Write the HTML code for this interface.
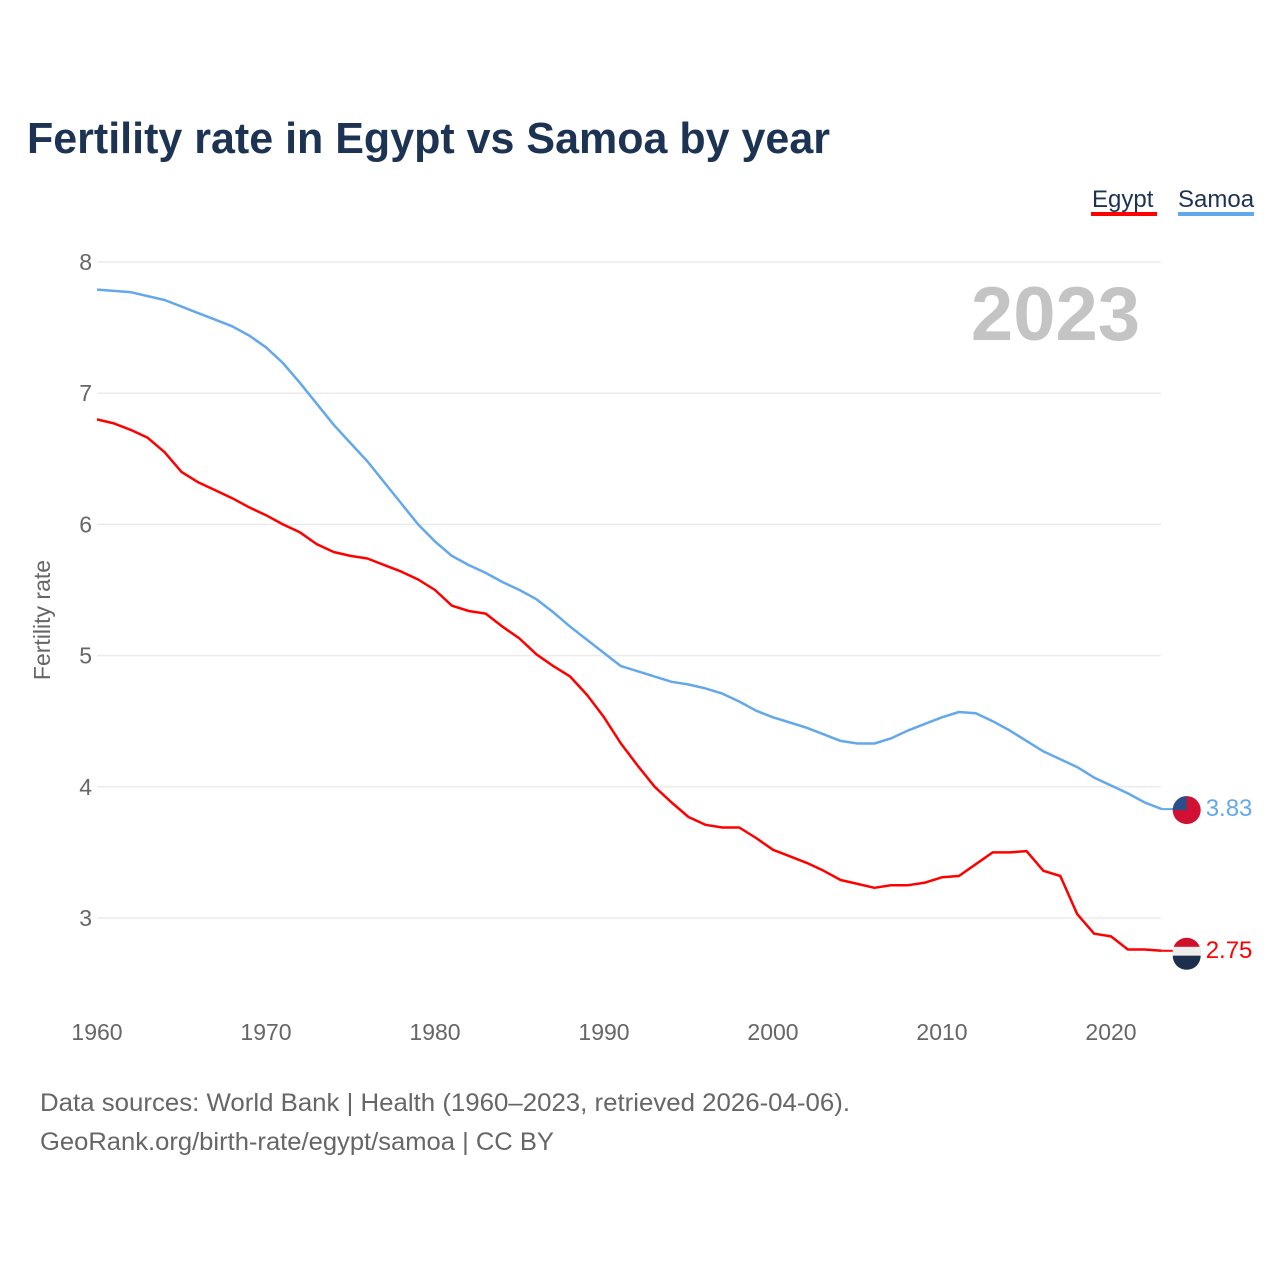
<!DOCTYPE html>
<html><head><meta charset="utf-8">
<style>
body{margin:0;background:#fff;width:1280px;height:1280px;overflow:hidden;font-family:"Liberation Sans",sans-serif}
</style></head>
<body>
<svg id="chart" width="1280" height="1280" xmlns="http://www.w3.org/2000/svg" font-family="Liberation Sans, sans-serif">
<text x="27" y="153" font-size="44" font-weight="bold" fill="#1d3354" textLength="803" lengthAdjust="spacingAndGlyphs">Fertility rate in Egypt vs Samoa by year</text>
<g>
<text x="1092" y="207" font-size="24" fill="#1d3354">Egypt</text>
<rect x="1091" y="212" width="66" height="4" fill="#ff0000"/>
<text x="1178" y="207" font-size="24" fill="#1d3354">Samoa</text>
<rect x="1178" y="212" width="76" height="4" fill="#64a8ec"/>
</g>
<text x="1140" y="340" font-size="76" font-weight="bold" fill="#c4c4c4" text-anchor="end">2023</text>
<text transform="translate(50,620) rotate(-90)" font-size="23" fill="#666" text-anchor="middle">Fertility rate</text>
<g id="grid"></g><g id="lines"></g>
<text x="40" y="1111" font-size="25" fill="#666" textLength="810" lengthAdjust="spacingAndGlyphs">Data sources: World Bank | Health (1960–2023, retrieved 2026-04-06).</text>
<text x="40" y="1150" font-size="25" fill="#666" textLength="514" lengthAdjust="spacingAndGlyphs">GeoRank.org/birth-rate/egypt/samoa | CC BY</text>
</svg>
<script>
const years=[];for(let y=1960;y<=2023;y++)years.push(y);
const samoa=[7.79,7.78,7.77,7.74,7.71,7.66,7.61,7.56,7.51,7.44,7.35,7.23,7.08,6.92,6.76,6.62,6.48,6.32,6.16,6.00,5.87,5.76,5.69,5.63,5.56,5.50,5.43,5.33,5.22,5.12,5.02,4.92,4.88,4.84,4.80,4.78,4.75,4.71,4.65,4.58,4.53,4.49,4.45,4.40,4.35,4.33,4.33,4.37,4.43,4.48,4.53,4.57,4.56,4.50,4.43,4.35,4.27,4.21,4.15,4.07,4.01,3.95,3.88,3.83];
const egypt=[6.80,6.77,6.72,6.66,6.55,6.40,6.32,6.26,6.20,6.13,6.07,6.00,5.94,5.85,5.79,5.76,5.74,5.69,5.64,5.58,5.50,5.38,5.34,5.32,5.22,5.13,5.01,4.92,4.84,4.70,4.53,4.33,4.16,4.00,3.88,3.77,3.71,3.69,3.69,3.61,3.52,3.47,3.42,3.36,3.29,3.26,3.23,3.25,3.25,3.27,3.31,3.32,3.41,3.50,3.50,3.51,3.36,3.32,3.03,2.88,2.86,2.76,2.76,2.75];
const yTicks=[3,4,5,6,7,8];
const xTicks=[1960,1970,1980,1990,2000,2010,2020];
const X=y=>97+(y-1960)*(1111-97)/60;
const Y=v=>262+(8-v)*131.2;
const NS="http://www.w3.org/2000/svg";
const grid=document.getElementById('grid'),lines=document.getElementById('lines');
function mk(t,a,p){const e=document.createElementNS(NS,t);for(const k in a)e.setAttribute(k,a[k]);p.appendChild(e);return e;}
yTicks.forEach(v=>{
 const l=mk('line',{x1:97,x2:1161,y1:Y(v),y2:Y(v),stroke:'#ebebeb','stroke-width':1.5},grid);
 
 
 const t=mk('text',{x:92,y:Y(v)+8,'font-size':23,fill:'#666','text-anchor':'end'},grid);
 t.textContent=v;
 
 
});
xTicks.forEach(v=>{
 const t=mk('text',{x:X(v),y:1040,'font-size':23,fill:'#666','text-anchor':'middle'},grid);
 t.textContent=v;
 
 
});
function series(vals,col,name){
 const d=vals.map((v,i)=>(i?'L':'M')+X(years[i]).toFixed(1)+','+Y(v).toFixed(1)).join('');
 const p=mk('path',{d:d,fill:'none',stroke:col,'stroke-width':2.5,'stroke-linejoin':'round'},lines);
 
 
 const last=vals[vals.length-1],lx=X(years[years.length-1]);
 mk('line',{x1:lx,x2:lx+12,y1:Y(last),y2:Y(last),stroke:col,'stroke-width':2},lines);
 const c=mk('circle',{cx:lx+25,cy:Y(last)+1,r:14,fill:name==='samoa'?'#d21034':'#ce1126'},lines);
 
 
 if(name==='samoa'){mk('path',{d:`M${lx+11},${Y(last)+1} A14,14 0 0 1 ${lx+25},${Y(last)-13} L${lx+25},${Y(last)+1} Z`,fill:'#2b4f88'},lines);}
 else{mk('rect',{x:lx+11,y:Y(last)-4,width:28,height:9,fill:'#eee'},lines);
  mk('path',{d:`M${lx+11},${Y(last)+5} L${lx+39},${Y(last)+5} A14,14 0 0 1 ${lx+11},${Y(last)+5} Z`,fill:'#1d2f4f'},lines);}
 const t=mk('text',{x:lx+44,y:Y(last)+7,'font-size':24,fill:col},lines);
 t.textContent=last.toFixed(2);
 
 
}
series(samoa,'#64a8ec','samoa');
series(egypt,'#ff0000','egypt');
</script>
</body></html>
